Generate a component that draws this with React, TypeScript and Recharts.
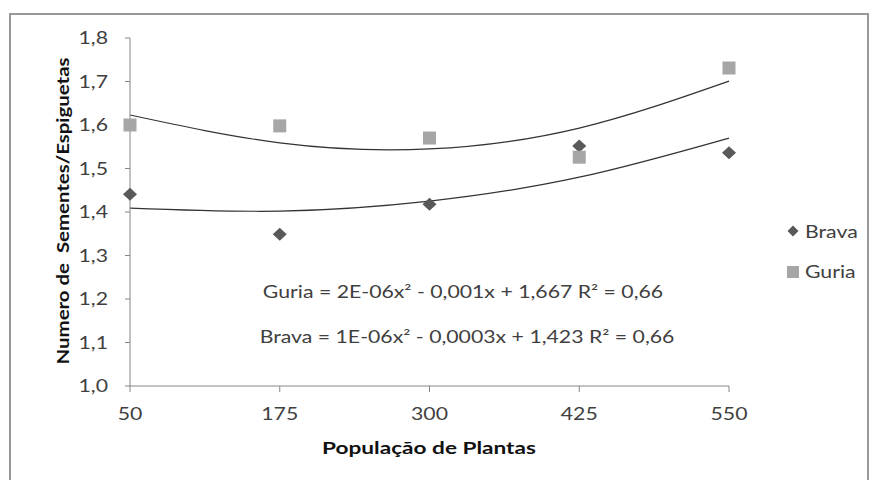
import { ComposedChart, Scatter, Line, XAxis, YAxis } from 'recharts'

const populacao = [50, 175, 300, 425, 550]
const brava = [1.441, 1.349, 1.418, 1.552, 1.536]
const guria = [1.6, 1.598, 1.57, 1.526, 1.731]
// trendline values at each x
const bravaTrend = [1.409, 1.402, 1.425, 1.48, 1.57]
const guriaTrend = [1.623, 1.559, 1.545, 1.593, 1.701]
const yTicks = [1.0, 1.1, 1.2, 1.3, 1.4, 1.5, 1.6, 1.7, 1.8]

const data = populacao.map((x, i) => ({
  x,
  brava: brava[i],
  guria: guria[i],
  bravaTrend: bravaTrend[i],
  guriaTrend: guriaTrend[i],
}))

const FONT = 'Lato, "Open Sans", sans-serif'
const TEXT = '#404040'
const STRETCH = 1.25

const Diamond = (props: any) => {
  const { cx, cy } = props
  return (
    <polygon
      points={`${cx},${cy - 6.5} ${cx + 7},${cy} ${cx},${cy + 6.5} ${cx - 7},${cy}`}
      fill="#595959"
    />
  )
}

const Square = (props: any) => {
  const { cx, cy } = props
  const s = 13
  return <rect x={cx - s / 2} y={cy - s / 2} width={s} height={s} fill="#a6a6a6" />
}

const StretchTick = (props: any) => {
  const { x, y, payload, textAnchor, formatter, dy } = props
  const label = formatter ? formatter(payload.value) : String(payload.value)
  return (
    <text
      transform={`translate(${x} ${y}) scale(${STRETCH} 1)`}
      textAnchor={textAnchor}
      dy={dy}
      fill={TEXT}
      fontSize={17}
      fontFamily={FONT}
    >
      {label}
    </text>
  )
}

const fmtY = (v: number) => v.toFixed(1).replace('.', ',')

const overlayText = {
  position: 'absolute' as const,
  fontFamily: FONT,
  fontSize: 17,
  color: TEXT,
  whiteSpace: 'nowrap' as const,
}

export default function App() {
  return (
    <div
      style={{
        position: 'fixed',
        left: 0,
        top: 0,
        width: 872,
        height: 480,
        background: '#fff',
        overflow: 'hidden',
      }}
    >
      <div
        style={{
          position: 'absolute',
          left: 9,
          top: 13,
          width: 860,
          height: 500,
          border: '2px solid #999',
          boxSizing: 'border-box',
        }}
      />
      <ComposedChart
        width={872}
        height={480}
        data={data}
        margin={{ top: 38, right: 143, left: 70, bottom: 54 }}
        style={{ position: 'absolute', left: 0, top: 0 }}
      >
        <XAxis
          dataKey="x"
          type="number"
          domain={[50, 550]}
          ticks={populacao}
          height={40}
          stroke="#868686"
          tickSize={6}
          tickMargin={16}
          tick={<StretchTick dy="0.71em" />}
        />
        <YAxis
          type="number"
          domain={[1.0, 1.8]}
          ticks={yTicks}
          width={60}
          stroke="#868686"
          tickSize={5}
          tickMargin={17}
          tick={<StretchTick formatter={fmtY} dy="0.36em" />}
        />
        <Line
          dataKey="guriaTrend"
          type="natural"
          stroke="#333333"
          strokeWidth={1.2}
          dot={false}
          activeDot={false}
          isAnimationActive={false}
        />
        <Line
          dataKey="bravaTrend"
          type="natural"
          stroke="#333333"
          strokeWidth={1.2}
          dot={false}
          activeDot={false}
          isAnimationActive={false}
        />
        <Scatter name="Brava" dataKey="brava" shape={Diamond} isAnimationActive={false} />
        <Scatter name="Guria" dataKey="guria" shape={Square} isAnimationActive={false} />
      </ComposedChart>

      {/* legend */}
      <svg width={14} height={14} style={{ position: 'absolute', left: 786, top: 224 }}>
        <polygon points="7,1.5 12.5,7 7,12.5 1.5,7" fill="#595959" />
      </svg>
      <div
        style={{
          ...overlayText,
          left: 805,
          top: 221,
          transform: `scaleX(${STRETCH})`,
          transformOrigin: 'left center',
        }}
      >
        Brava
      </div>
      <svg width={14} height={14} style={{ position: 'absolute', left: 786, top: 265 }}>
        <rect x={1} y={1} width={12} height={12} fill="#a6a6a6" />
      </svg>
      <div
        style={{
          ...overlayText,
          left: 805,
          top: 261,
          transform: `scaleX(${STRETCH})`,
          transformOrigin: 'left center',
        }}
      >
        Guria
      </div>

      {/* trendline equations */}
      <div
        style={{
          ...overlayText,
          left: 463,
          top: 281,
          transform: `translateX(-50%) scaleX(${STRETCH})`,
        }}
      >
        Guria = 2E-06x² - 0,001x + 1,667 R² = 0,66
      </div>
      <div
        style={{
          ...overlayText,
          left: 467,
          top: 326,
          transform: `translateX(-50%) scaleX(${STRETCH})`,
        }}
      >
        Brava = 1E-06x² - 0,0003x + 1,423 R² = 0,66
      </div>

      {/* axis titles */}
      <div
        style={{
          ...overlayText,
          left: 429,
          top: 437,
          fontSize: 17,
          fontWeight: 'bold',
          color: '#111',
          transform: 'translateX(-50%) scaleX(1.33)',
        }}
      >
        População de Plantas
      </div>
      <div
        style={{
          ...overlayText,
          left: 62,
          top: 211,
          fontSize: 17,
          fontWeight: 'bold',
          color: '#111',
          whiteSpace: 'pre',
          transform: 'translate(-50%, -50%) rotate(-90deg) scaleX(1.2)',
        }}
      >
        Numero de  Sementes/Espiguetas
      </div>
    </div>
  )
}
